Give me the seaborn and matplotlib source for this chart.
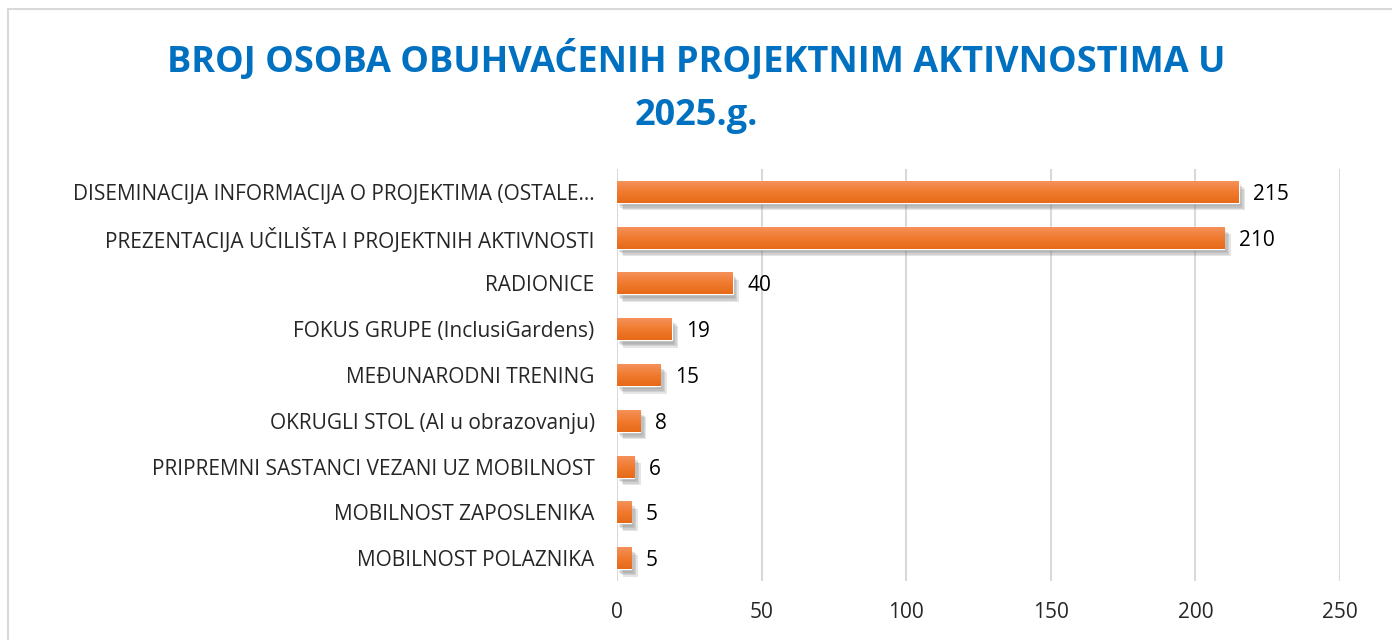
import numpy as np
import pandas as pd
import matplotlib.pyplot as plt
import matplotlib.patheffects as pe
from matplotlib.patches import Rectangle
from matplotlib.colors import LinearSegmentedColormap
import seaborn as sns

aktivnosti = [
    "DISEMINACIJA INFORMACIJA O PROJEKTIMA (OSTALE…",
    "PREZENTACIJA UČILIŠTA I PROJEKTNIH AKTIVNOSTI",
    "RADIONICE",
    "FOKUS GRUPE (InclusiGardens)",
    "MEĐUNARODNI TRENING",
    "OKRUGLI STOL (AI u obrazovanju)",
    "PRIPREMNI SASTANCI VEZANI UZ MOBILNOST",
    "MOBILNOST ZAPOSLENIKA",
    "MOBILNOST POLAZNIKA",
]
broj_osoba = [215, 210, 40, 19, 15, 8, 6, 5, 5]
x_ticks = [0, 50, 100, 150, 200, 250]

naslov = "BROJ OSOBA OBUHVAĆENIH PROJEKTNIM AKTIVNOSTIMA U\n2025.g."

df = pd.DataFrame({"Aktivnost": aktivnosti, "Broj": broj_osoba})

sns.set_style("white")
plt.rcParams["font.family"] = ["Open Sans", "DejaVu Sans"]

fig = plt.figure(figsize=(13.92, 6.4), dpi=100)
ax = fig.add_axes([0.4432, 0.0922, 0.9626 - 0.4432, 0.736 - 0.0922])

# okvir oko cijelog grafikona
fig.patches.append(Rectangle((8 / 1392, -0.01), 1.1, 1 - 9 / 640 + 0.01,
                             transform=fig.transFigure, fill=False,
                             edgecolor="#d9d9d9", linewidth=1.5))

sns.barplot(data=df, x="Broj", y="Aktivnost", color="#ED7D31", saturation=1,
            width=0.48, ax=ax, zorder=3)

# meka sjena ispod stupaca
sjene = [pe.SimplePatchShadow(offset=(o, -o - 1), shadow_rgbFace="#808080", alpha=0.2)
         for o in (1.5, 2.5, 3.5, 4.5)]
for bar in ax.patches:
    bar.set_path_effects(sjene + [pe.Normal()])

# gradijent na stupcima (svjetlije gore, tamnije dolje)
grad_cmap = LinearSegmentedColormap.from_list("nar", ["#F5915A", "#F07A2E", "#E66A18"])
grad = np.linspace(0, 1, 64).reshape(-1, 1)
for bar in ax.patches:
    x0, y0 = bar.get_x(), bar.get_y()
    w, h = bar.get_width(), bar.get_height()
    im = ax.imshow(grad, cmap=grad_cmap, aspect="auto", extent=[x0, x0 + w, y0, y0 + h],
                   origin="lower", zorder=4, interpolation="bilinear")
    im.set_clip_path(bar)

for bar, val in zip(ax.patches, broj_osoba):
    ax.text(bar.get_width() + 5, bar.get_y() + bar.get_height() / 2, str(val),
            va="center_baseline", ha="left", fontsize=15, color="#000000", zorder=5)

ax.set_xlim(0, 250)
ax.set_ylim(len(aktivnosti) - 0.5, -0.5)
ax.set_xticks(x_ticks)
ax.grid(axis="x", color="#d9d9d9", linewidth=1.5, zorder=0)
ax.set_axisbelow(True)
for s in ax.spines.values():
    s.set_visible(False)
ax.tick_params(axis="x", labelsize=15, pad=15, length=0)
ax.tick_params(axis="y", labelsize=15, pad=16, length=0)
ax.set_xlabel("")
ax.set_ylabel("")

fig.text(0.5, 0.864, naslov, ha="center", va="center", fontsize=26,
         fontweight="bold", color="#0070C0", linespacing=1.6)

plt.savefig("out.png", dpi=100)
